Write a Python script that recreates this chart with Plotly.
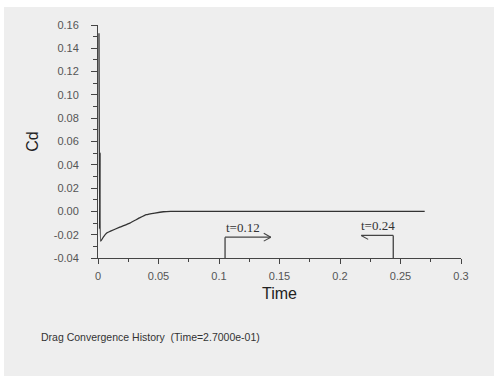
import plotly.graph_objects as go

# Drag coefficient history
time = [0.0008, 0.0013, 0.0017, 0.0022, 0.0044, 0.0072, 0.0099, 0.018, 0.0264,
        0.0347, 0.040, 0.047, 0.054, 0.060, 0.08, 0.10, 0.15, 0.20, 0.25, 0.27]
cd = [0.153, -0.015, 0.050, -0.0255, -0.022, -0.0186, -0.0172, -0.0135, -0.010,
      -0.0054, -0.0028, -0.0014, -0.0003, 0.0, 0.0, 0.0, 0.0, 0.0, 0.0, 0.0]

x_ticks = [0, 0.05, 0.1, 0.15, 0.2, 0.25, 0.3]
x_labels = ["0", "0.05", "0.1", "0.15", "0.2", "0.25", "0.3"]
y_ticks = [0.16, 0.14, 0.12, 0.10, 0.08, 0.06, 0.04, 0.02, 0.00, -0.02, -0.04]
y_labels = ["%.2f" % v for v in y_ticks]

# time-window markers
marker_labels = ["t=0.12", "t=0.24"]
marker_times = [0.105, 0.244]
arrow_tips = [0.1428, 0.2175]
arrow_levels = [-0.0221, -0.0206]

fig = go.Figure()
fig.add_trace(go.Scatter(x=time, y=cd, mode="lines", line_shape="spline",
                         line=dict(color="#333333", width=1.3, smoothing=0.3),
                         showlegend=False, hoverinfo="skip"))

shapes = []
annotations = []
for lab, tm, tip, lev in zip(marker_labels, marker_times, arrow_tips, arrow_levels):
    d = 1 if tip > tm else -1
    shapes.append(dict(type="line", x0=tm, x1=tm, y0=-0.04, y1=lev,
                       xref="x", yref="y", line=dict(color="#333333", width=1.2)))
    shapes.append(dict(type="line", x0=tm, x1=tip, y0=lev, y1=lev,
                       xref="x", yref="y", line=dict(color="#444444", width=1.1)))
    shapes.append(dict(type="line", x0=tip, x1=tip - d * 0.0058, y0=lev, y1=lev - 0.0034,
                       xref="x", yref="y", line=dict(color="#444444", width=1.1)))
    if d > 0:
        shapes.append(dict(type="line", x0=tip, x1=tip - d * 0.0058, y0=lev, y1=lev + 0.0034,
                           xref="x", yref="y", line=dict(color="#444444", width=1.1)))
    tx = tm + 0.015 if d > 0 else tm - 0.0125
    annotations.append(dict(x=tx, y=lev + 0.0085, xref="x", yref="y", text=lab,
                            showarrow=False,
                            font=dict(family="Liberation Serif", size=13, color="#333333")))

# white outer strips
shapes.append(dict(type="rect", xref="paper", yref="paper", x0=-1, x1=2,
                   y0=1 + 18 / 233, y1=2, fillcolor="white", line=dict(width=0), layer="below"))
shapes.append(dict(type="rect", xref="paper", yref="paper", x0=-1, x1=-94 / 363,
                   y0=-1, y1=2, fillcolor="white", line=dict(width=0), layer="below"))

annotations.append(dict(x=(39 - 98) / 363, y=(258 - 337) / 233, xref="paper", yref="paper",
                        text="Drag Convergence History  (Time=2.7000e-01)",
                        showarrow=False, xanchor="left", yanchor="middle",
                        font=dict(family="Liberation Sans", size=10.5, color="#333333")))

axis_common = dict(showgrid=False, zeroline=False, showline=True, linecolor="#444444",
                   linewidth=1, ticks="outside", tickcolor="#444444", tickwidth=1,
                   tickfont=dict(family="Liberation Sans", size=11, color="#555555"))

fig.update_layout(
    width=494, height=376,
    margin=dict(l=98, r=33, t=25, b=118),
    paper_bgcolor="#eeeeee", plot_bgcolor="#eeeeee",
    shapes=shapes, annotations=annotations,
    xaxis=dict(range=[0, 0.3], tickvals=x_ticks, ticktext=x_labels, ticklen=5,
               minor=dict(dtick=0.025, ticks="outside", ticklen=3, tickcolor="#444444"),
               title=dict(text="Time", font=dict(family="Liberation Sans", size=16, color="#222222"),
                          standoff=6),
               ticklabelstandoff=3, **axis_common),
    yaxis=dict(range=[-0.04, 0.16], tickvals=y_ticks, ticktext=y_labels, ticklen=6,
               minor=dict(dtick=0.01, ticks="outside", ticklen=4, tickcolor="#444444"),
               title=dict(text="Cd", font=dict(family="Liberation Sans", size=16, color="#222222"),
                          standoff=11),
               ticklabelstandoff=10, **axis_common),
)

fig.write_html("out.html")
